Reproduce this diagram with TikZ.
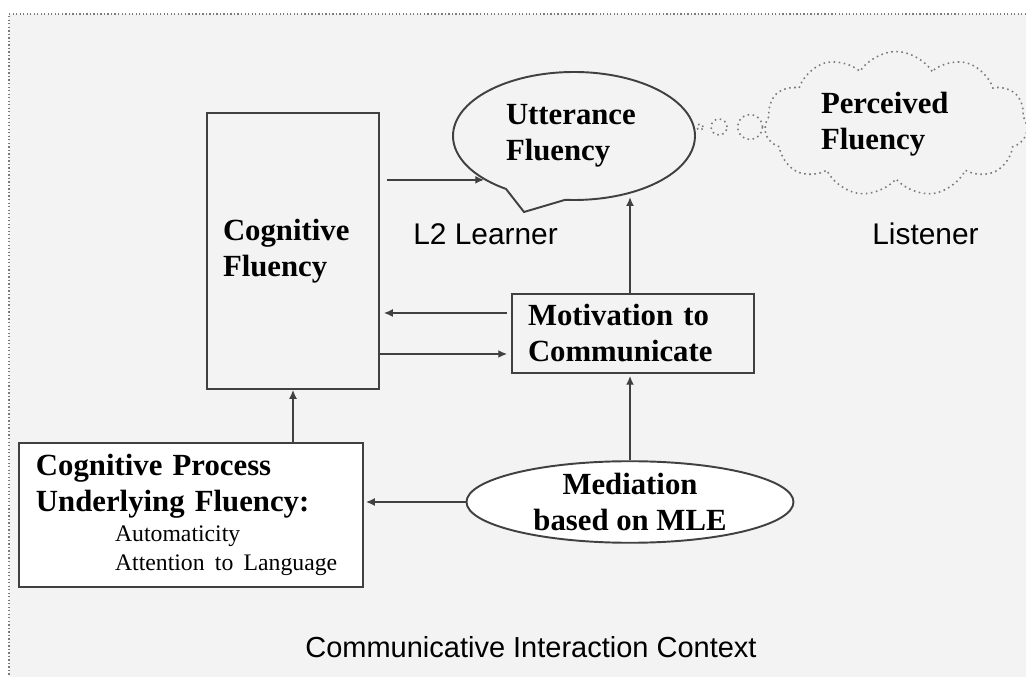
\documentclass[tikz,border=0pt]{standalone}
\usepackage{fontspec}
\setmainfont{Liberation Serif}
\newfontfamily\labelfont{Liberation Sans}
\usetikzlibrary{arrows.meta,calc,shapes.geometric,shapes.callouts,shapes.symbols}
\definecolor{pagec}{HTML}{F3F3F3}
\definecolor{inkc}{HTML}{404040}
\definecolor{dotc}{HTML}{7A7A7A}
\newcommand{\boxfont}{\fontsize{17.5}{20.5}\selectfont\bfseries}
\newcommand{\itemfont}{\fontsize{13.5}{20.5}\selectfont\mdseries}
\tikzset{
  frame/.style={draw=inkc, line width=1.1pt},
  plainbox/.style={frame, rectangle, font=\boxfont, align=left, inner ysep=0pt},
  flow/.style={draw=inkc, line width=0.8pt, -{Latex[length=5pt,width=4.5pt]}},
  dotline/.style={draw=dotc, line width=0.9pt, dotted},
  tag/.style={font=\labelfont\fontsize{17}{20}\selectfont, anchor=base west, inner sep=0pt},
}
\begin{document}
\begin{tikzpicture}[x=0.2mm, y=-0.2mm]
\useasboundingbox (0,0) rectangle (1026,677);
\fill[pagec] (9,14) rectangle (1026,677);
\draw[draw=dotc, line width=0.7pt, dash pattern=on 0.7pt off 1.3pt] (1026,14) -- (9,14) -- (9,677);

% learner side
\node[plainbox, fill=pagec, text width=2.8cm, inner xsep=0.32cm, minimum height=5.52cm] (cogflu) at (293,251) {Cognitive\\Fluency};
\node[plainbox, fill=pagec, text width=4.2cm, inner xsep=0.32cm, minimum height=1.58cm] (motiv) at (633,333.5) {Motivation to\\Communicate};
\node[plainbox, fill=white, text width=6.2cm, inner xsep=0.34cm, minimum height=2.88cm] (cogproc) at (191,515) {Cognitive Process\\Underlying Fluency:\\[-3.5pt]\itemfont\hspace*{45pt}Automaticity\\[-4pt]\itemfont\hspace*{45pt}Attention to Language};
\node[frame, ellipse, fill=white, minimum width=6.54cm, minimum height=1.6cm, inner sep=0pt, font=\boxfont, align=center] (medi) at (630,502) {Mediation\\based on MLE};
\node[frame, fill=pagec, ellipse callout, callout absolute pointer={(524,212)}, callout pointer arc=30, minimum width=4.84cm, minimum height=2.56cm, inner sep=0pt, text width=2.72cm, font=\boxfont, align=left] (bubble) at (574,136) {Utterance\\Fluency};

% listener side
\node[dotline, circle, minimum size=0.12cm, inner sep=0pt] (puff1) at (700,127) {};
\node[dotline, circle, minimum size=0.32cm, inner sep=0pt] (puff2) at (719,127) {};
\node[dotline, circle, minimum size=0.5cm, inner sep=0pt] (puff3) at (750,127) {};
\node[dotline, cloud, cloud puffs=11, cloud puff arc=115, cloud ignores aspect, minimum width=5.26cm, minimum height=2.9cm, text width=3.0cm, font=\boxfont, align=left] (percv) at (896,124) {Perceived\\Fluency};

\node[tag] (learner) at (413,245) {L2 Learner};
\node[tag] (listener) at (872,245) {Listener};
\node[tag, font=\labelfont\fontsize{16.5}{20}\selectfont] (context) at (305,658) {Communicative Interaction Context};

% arrows
\draw[flow] ($(cogflu.east |- bubble.206)+(7,0)$) -- (bubble.206);
\draw[flow] ($(motiv.west)+(-4,-20.5)$) -- ($(motiv.west -| cogflu.east)+(4,-20.5)$);
\draw[flow] ($(motiv.west -| cogflu.east)+(0,20.5)$) -- ($(motiv.west)+(-4,20.5)$);
\draw[flow] ($(motiv.north)+(-3,0)$) -- ($(bubble.313 -| motiv.north)+(-3,3)$);
\draw[flow] (medi.north) -- ($(medi.north |- motiv.south)+(0,2)$);
\draw[flow] (medi.west) -- ($(medi.west -| cogproc.east)+(2,0)$);
\draw[flow] (cogflu.south |- cogproc.north) -- (cogflu.south);
\end{tikzpicture}
\end{document}
